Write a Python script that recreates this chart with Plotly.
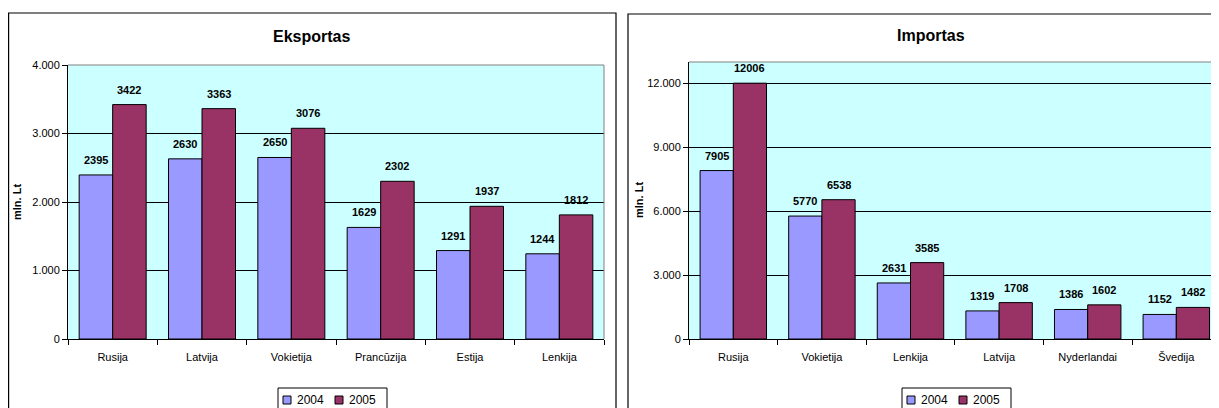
import plotly.graph_objects as go

# Lithuanian trade partners, mln. Lt
exp_cats = ["Rusija", "Latvija", "Vokietija", "Prancūzija", "Estija", "Lenkija"]
exp_2004 = [2395, 2630, 2650, 1629, 1291, 1244]
exp_2005 = [3422, 3363, 3076, 2302, 1937, 1812]

imp_cats = ["Rusija", "Vokietija", "Lenkija", "Latvija", "Nyderlandai", "Švedija"]
imp_2004 = [7905, 5770, 2631, 1319, 1386, 1152]
imp_2005 = [12006, 6538, 3585, 1708, 1602, 1482]

years = ["2004", "2005"]
colors = ["#9999FF", "#993366"]

W, H = 1219, 408
OFF = 8  # page body margin
FONT = "Arial, Liberation Sans, sans-serif"


def px(x):
    return (x - OFF) / W


def py(y):
    return 1 - (y - OFF) / H


fig = go.Figure()

panels = [
    (exp_cats, [exp_2004, exp_2005], "x", "y"),
    (imp_cats, [imp_2004, imp_2005], "x2", "y2"),
]
annotations = []
for cats, series, xa, ya in panels:
    for k, vals in enumerate(series):
        fig.add_trace(go.Bar(
            x=cats, y=vals, name=years[k], showlegend=False,
            marker=dict(color=colors[k], line=dict(color="black", width=1)),
            xaxis=xa, yaxis=ya,
        ))
        # value labels above each bar (bar centres sit +-0.1875 of a category)
        off = -0.1875 if k == 0 else 0.1875
        for i, v in enumerate(vals):
            annotations.append(dict(
                x=i + off, y=v, xref=xa, yref=ya, text=str(v),
                showarrow=False, xanchor="center", yanchor="bottom", yshift=7,
                font=dict(family=FONT, size=11, color="black", weight="bold"),
            ))

# chart titles and axis titles
bold = dict(family=FONT, color="black", weight="bold")
annotations += [
    dict(x=px(311), y=py(37), text="Eksportas", font=dict(bold, size=16)),
    dict(x=px(931), y=py(36), text="Importas", font=dict(bold, size=16)),
    dict(x=px(17), y=py(202), text="mln. Lt", textangle=-90, font=dict(bold, size=11)),
    dict(x=px(639), y=py(200), text="mln. Lt", textangle=-90, font=dict(bold, size=11)),
]
for a in annotations[-4:]:
    a.update(xref="paper", yref="paper", showarrow=False, xanchor="center", yanchor="middle")

shapes = [
    # chart frames
    dict(type="rect", xref="paper", yref="paper", x0=px(8.6), x1=px(616), y0=py(13), y1=py(460),
         line=dict(color="black", width=1.2)),
    dict(type="rect", xref="paper", yref="paper", x0=px(628), x1=px(1260), y0=py(14), y1=py(460),
         line=dict(color="black", width=1.2)),
    # plot area outline (top / right)
    dict(type="line", xref="paper", yref="paper", x0=px(68), x1=px(604), y0=py(65), y1=py(65),
         line=dict(color="#808080", width=1)),
    dict(type="line", xref="paper", yref="paper", x0=px(604), x1=px(604), y0=py(65), y1=py(339),
         line=dict(color="#808080", width=1)),
    dict(type="line", xref="paper", yref="paper", x0=px(689), x1=px(1240), y0=py(62), y1=py(62),
         line=dict(color="#808080", width=1)),
]

# hand-drawn legends (Excel style: small keys, compact box)
for lx in [278, 902]:
    shapes.append(dict(type="rect", xref="paper", yref="paper", x0=px(lx), x1=px(lx + 109),
                       y0=py(388), y1=py(420), line=dict(color="black", width=1),
                       fillcolor="white", layer="above"))
    for k, year in enumerate(years):
        sx = lx + 5 + 52 * k
        shapes.append(dict(type="rect", xref="paper", yref="paper", x0=px(sx), x1=px(sx + 8),
                           y0=py(396), y1=py(404), line=dict(color="black", width=1),
                           fillcolor=colors[k], layer="above"))
        annotations.append(dict(x=px(sx + 12), y=py(400), xref="paper", yref="paper",
                                text=year, showarrow=False, xanchor="left", yanchor="middle",
                                font=dict(family=FONT, size=12, color="black")))

xcommon = dict(type="category", tickson="boundaries", ticks="outside", ticklen=5,
               tickcolor="black", showline=True, linecolor="black", linewidth=1,
               showgrid=False, tickfont=dict(family=FONT, size=11, color="black"),
               ticklabelstandoff=8, fixedrange=True)
ycommon = dict(ticks="outside", ticklen=5, tickcolor="black", showline=True,
               linecolor="black", linewidth=1, showgrid=True, gridcolor="black",
               gridwidth=1, zeroline=False, tickformat=",d",
               tickfont=dict(family=FONT, size=11, color="black"), fixedrange=True)

fig.update_layout(
    width=W, height=H,
    margin=dict(l=0, r=0, t=0, b=0, autoexpand=False),
    paper_bgcolor="white", plot_bgcolor="#CCFFFF",
    separators=",.",
    showlegend=False,
    barmode="group", bargap=0.25, bargroupgap=0,
    font=dict(family=FONT, color="black"),
    xaxis=dict(xcommon, domain=[px(68), px(604)], anchor="y", range=[-0.5, 5.5]),
    yaxis=dict(ycommon, domain=[py(339), py(65)], anchor="x", range=[0, 4000], dtick=1000),
    xaxis2=dict(xcommon, domain=[px(689), 1], anchor="y2",
                range=[-0.5, -0.5 + (W + OFF - 689) / 88.6]),
    yaxis2=dict(ycommon, domain=[py(339), py(62)], anchor="x2", range=[0, 13000], dtick=3000),
    annotations=annotations,
    shapes=shapes,
)

fig.write_html("out.html")
